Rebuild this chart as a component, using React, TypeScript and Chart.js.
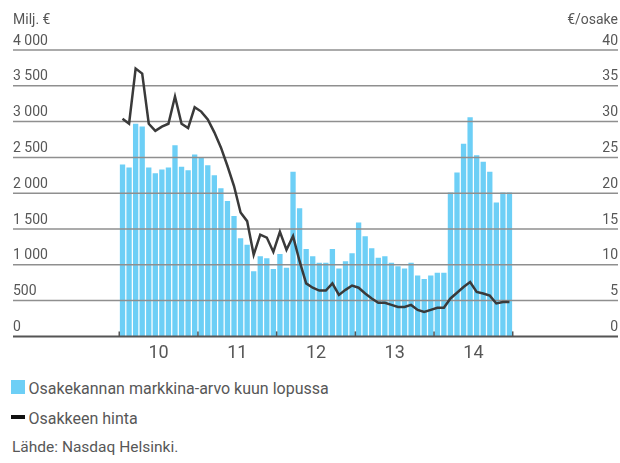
import React, { useEffect, useRef } from "react";
import { Chart, registerables } from "chart.js";

Chart.register(...registerables);

// ---- data (monthly, Jan 2010 – Dec 2014) ----
const yearLabels = ["10", "11", "12", "13", "14"];

const marketCap2010 = [2400, 2360, 2970, 2930, 2360, 2280, 2330, 2360, 2670, 2370, 2320, 2540];
const marketCap2011 = [2500, 2390, 2250, 2070, 1890, 1680, 1370, 1280, 910, 1120, 1090, 940];
const marketCap2012 = [1150, 960, 2300, 1790, 1220, 1120, 1030, 1030, 1220, 950, 1050, 1160];
const marketCap2013 = [1590, 1400, 1230, 1100, 1120, 1030, 980, 950, 1030, 850, 800, 850];
const marketCap2014 = [890, 890, 2010, 2290, 2690, 3060, 2530, 2440, 2300, 1870, 2010, 2010];

const price2010 = [30.4, 29.7, 37.4, 36.7, 29.7, 28.7, 29.3, 29.7, 33.5, 29.7, 29.1, 32.0];
const price2011 = [31.4, 30.3, 28.5, 26.4, 23.8, 21.0, 17.3, 16.1, 11.4, 14.2, 13.8, 11.8];
const price2012 = [14.6, 12.1, 14.0, 10.5, 7.4, 6.8, 6.4, 6.4, 7.4, 5.8, 6.5, 7.1];
const price2013 = [6.8, 6.0, 5.3, 4.7, 4.7, 4.4, 4.1, 4.1, 4.4, 3.7, 3.4, 3.7];
const price2014 = [4.0, 4.0, 5.3, 6.1, 6.9, 7.6, 6.2, 6.0, 5.7, 4.6, 4.8, 4.8];

const marketCap = [...marketCap2010, ...marketCap2011, ...marketCap2012, ...marketCap2013, ...marketCap2014];
const sharePrice = [...price2010, ...price2011, ...price2012, ...price2013, ...price2014];

const leftMax = 4000;
const leftStep = 500;
const rightMax = 40;
const rightStep = 5;

const leftTitle = "Milj. €";
const rightTitle = "€/osake";
const legendBars = "Osakekannan markkina-arvo kuun lopussa";
const legendLine = "Osakkeen hinta";
const sourceText = "Lähde: Nasdaq Helsinki.";

// ---- style ----
const FONT = "Roboto, 'Noto Sans', sans-serif";
const TEXT = "#575757";
const BAR = "#6dcff6";
const LINE = "#3a3a3a";
const GRID = "#8f8f8f";
const AXIS = "#555555";

const X_MIN = -16.7;
const X_MAX = 75.55;

const fmt = (v: number) => String(v).replace(/\B(?=(\d{3})+(?!\d))/g, "\u00a0");

export default function App() {
  const ref = useRef<HTMLCanvasElement>(null);

  useEffect(() => {
    const canvas = ref.current;
    if (!canvas) return;

    const yearBoundaries = yearLabels.map((_, i) => i * 12 - 0.5).concat([yearLabels.length * 12 - 0.5]);
    const yearMids = yearLabels.map((_, i) => i * 12 + 5.5);

    const overlay = {
      id: "overlay",
      afterDatasetDraw(chart: any, args: any) {
        if (args.index !== 0) return;
        const { ctx, chartArea } = chart;
        const y = chart.scales.y;
        const x = chart.scales.x;
        ctx.save();
        ctx.strokeStyle = GRID;
        ctx.lineWidth = 1.5;
        y.ticks.forEach((t: any) => {
          if (t.value === 0) return;
          const py = y.getPixelForValue(t.value);
          ctx.beginPath();
          ctx.moveTo(chartArea.left, py);
          ctx.lineTo(chartArea.right, py);
          ctx.stroke();
        });
        const py0 = y.getPixelForValue(0);
        ctx.strokeStyle = AXIS;
        ctx.lineWidth = 2;
        ctx.beginPath();
        ctx.moveTo(chartArea.left, py0);
        ctx.lineTo(chartArea.right, py0);
        ctx.stroke();
        ctx.lineWidth = 1.5;
        yearBoundaries.forEach((b) => {
          const px = x.getPixelForValue(b);
          ctx.beginPath();
          ctx.moveTo(px, py0);
          ctx.lineTo(px, py0 - 5);
          ctx.stroke();
        });
        ctx.restore();
      },
      afterDraw(chart: any) {
        const { ctx, chartArea } = chart;
        ctx.save();
        ctx.fillStyle = TEXT;
        ctx.font = `14px ${FONT}`;
        ctx.textBaseline = "alphabetic";
        ctx.textAlign = "left";
        ctx.fillText(leftTitle, chartArea.left, 23.5);
        ctx.textAlign = "right";
        ctx.fillText(rightTitle, chartArea.right, 23.5);
        ctx.restore();
      },
    };

    const chart = new Chart(canvas, {
      type: "bar",
      data: {
        datasets: [
          {
            type: "bar",
            label: legendBars,
            data: marketCap.map((v, i) => ({ x: i, y: v })),
            backgroundColor: BAR,
            borderWidth: 0,
            barPercentage: 0.81,
            categoryPercentage: 1,
            yAxisID: "y",
            order: 1,
          },
          {
            type: "line",
            label: legendLine,
            data: sharePrice.map((v, i) => ({ x: i, y: v })),
            borderColor: LINE,
            borderWidth: 2.5,
            pointRadius: 0,
            tension: 0,
            fill: false,
            yAxisID: "y1",
            order: 0,
          },
        ],
      },
      plugins: [overlay],
      options: {
        responsive: false,
        animation: false,
        devicePixelRatio: 1,
        layout: { padding: { left: 13, right: 2, top: 50, bottom: 0 } },
        plugins: { legend: { display: false }, tooltip: { enabled: false } },
        scales: {
          x: {
            type: "linear",
            min: X_MIN,
            max: X_MAX,
            offset: false,
            grid: { display: false, drawTicks: false, offset: false },
            border: { display: false },
            afterBuildTicks: (scale: any) => {
              scale.ticks = yearMids.map((v) => ({ value: v }));
            },
            ticks: {
              autoSkip: false,
              maxRotation: 0,
              padding: 6,
              color: TEXT,
              font: { family: FONT, size: 18 },
              callback: (_v: any, i: number) => yearLabels[i],
            },
          },
          y: {
            position: "left",
            min: 0,
            max: leftMax,
            grid: { display: false, drawTicks: false },
            border: { display: false },
            ticks: {
              stepSize: leftStep,
              mirror: true,
              padding: 0,
              labelOffset: -9,
              color: TEXT,
              font: { family: FONT, size: 14 },
              callback: (v: any) => fmt(Number(v)),
            },
          },
          y1: {
            position: "right",
            min: 0,
            max: rightMax,
            grid: { display: false, drawTicks: false },
            border: { display: false },
            ticks: {
              stepSize: rightStep,
              mirror: true,
              padding: 0,
              labelOffset: -9,
              color: TEXT,
              font: { family: FONT, size: 14 },
            },
          },
        },
      },
    } as any);

    return () => chart.destroy();
  }, []);

  const textBase: React.CSSProperties = {
    position: "absolute",
    whiteSpace: "nowrap",
    fontFamily: FONT,
    color: TEXT,
  };

  return (
    <div style={{ position: "relative", width: 620, height: 463, overflow: "hidden" }}>
      <style>{`body{margin:0}`}</style>
      <canvas ref={ref} width={620} height={370} style={{ position: "absolute", left: 0, top: 0, width: 620, height: 370 }} />
      <div style={{ position: "absolute", left: 11, top: 379.5, width: 13.5, height: 14.5, background: BAR }} />
      <div style={{ ...textBase, left: 28.5, top: 380.5, fontSize: 16, lineHeight: "16px" }}>{legendBars}</div>
      <div style={{ position: "absolute", left: 11, top: 415, width: 13.5, height: 3.5, background: "#111" }} />
      <div style={{ ...textBase, left: 28.5, top: 410.5, fontSize: 16, lineHeight: "16px" }}>{legendLine}</div>
      <div style={{ ...textBase, left: 12, top: 440.3, fontSize: 15.5, lineHeight: "15.5px" }}>{sourceText}</div>
    </div>
  );
}
